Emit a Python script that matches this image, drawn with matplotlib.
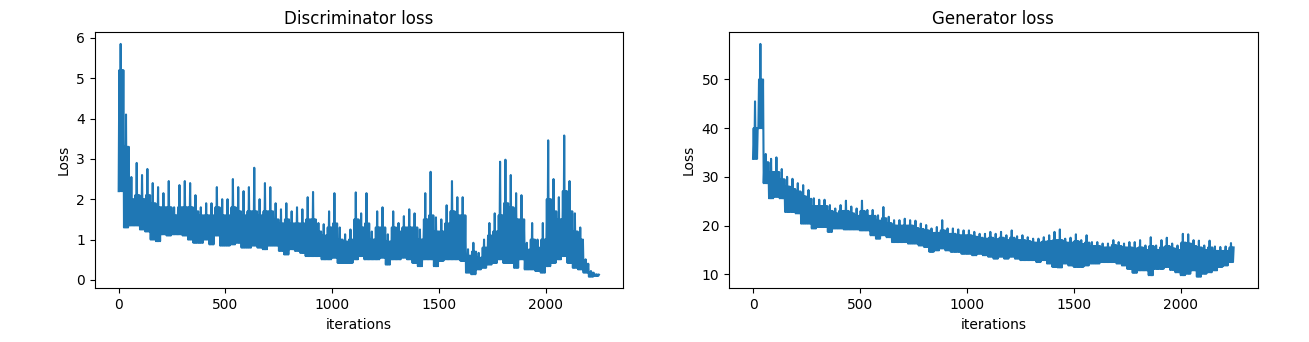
import numpy as np
import matplotlib
matplotlib.use("Agg")
import matplotlib.pyplot as plt

# Loss values, one value per 25 iterations:
# *_high = tallest spike, *_top = top of the dense band, *_low = bottom of the band
n_iter = 2248

d_high = [5.85, 4.1, 2.55, 2.9, 2.6, 2.75, 2.4, 2.3, 2.15, 2.45,
          1.8, 2.35, 2.45, 2.4, 2.1, 1.8, 1.9, 1.9, 2.3, 2.0,
          2.0, 2.5, 2.3, 2.2, 2.3, 2.78, 2.0, 2.4, 2.3, 1.9,
          1.75, 1.9, 1.7, 1.8, 1.75, 2.05, 2.18, 1.41, 1.38, 1.7,
          2.15, 1.3, 1.13, 1.25, 2.17, 1.65, 2.15, 1.2, 1.7, 1.8,
          1.13, 1.7, 1.41, 1.58, 1.75, 1.65, 1.25, 2.15, 2.68, 1.55,
          1.5, 1.85, 2.45, 2.05, 2.05, 0.76, 0.92, 0.67, 1.0, 1.41,
          1.65, 2.93, 2.98, 2.6, 2.15, 2.1, 0.92, 1.41, 1.0, 1.41,
          3.46, 2.5, 2.05, 3.58, 2.45, 1.65, 1.3, 0.51, 0.22, 0.14]
d_top = [5.2, 3.3, 2.0, 2.1, 2.0, 2.1, 1.9, 1.8, 1.8, 1.8,
         1.6, 1.8, 1.8, 1.8, 1.7, 1.6, 1.6, 1.6, 1.8, 1.6,
         1.6, 1.8, 1.7, 1.6, 1.7, 1.7, 1.6, 1.7, 1.7, 1.5,
         1.4, 1.5, 1.4, 1.4, 1.4, 1.5, 1.5, 1.2, 1.1, 1.3,
         1.4, 1.0, 0.95, 1.0, 1.5, 1.3, 1.4, 1.0, 1.3, 1.3,
         0.95, 1.3, 1.2, 1.3, 1.3, 1.3, 1.0, 1.5, 1.6, 1.2,
         1.2, 1.4, 1.7, 1.6, 1.6, 0.6, 0.7, 0.55, 0.8, 1.1,
         1.2, 1.6, 1.9, 1.8, 1.5, 1.5, 0.75, 1.0, 0.8, 1.0,
         2.0, 1.7, 1.5, 2.2, 1.7, 1.2, 1.0, 0.4, 0.18, 0.13]
d_low = [2.2, 1.3, 1.35, 1.35, 1.25, 1.2, 1.0, 0.96, 1.13, 1.1,
         1.13, 1.13, 1.1, 1.0, 0.92, 0.92, 1.0, 0.88, 1.1, 0.85,
         0.85, 0.88, 0.92, 0.8, 0.8, 0.85, 0.8, 0.76, 0.85, 0.85,
         0.72, 0.63, 0.76, 0.72, 0.67, 0.59, 0.59, 0.59, 0.51, 0.51,
         0.55, 0.42, 0.42, 0.42, 0.51, 0.59, 0.51, 0.51, 0.51, 0.55,
         0.38, 0.51, 0.51, 0.55, 0.51, 0.42, 0.34, 0.51, 0.51, 0.34,
         0.47, 0.51, 0.51, 0.51, 0.47, 0.18, 0.14, 0.26, 0.3, 0.38,
         0.42, 0.51, 0.42, 0.42, 0.3, 0.51, 0.26, 0.26, 0.22, 0.18,
         0.34, 0.42, 0.51, 0.59, 0.42, 0.3, 0.26, 0.18, 0.08, 0.1]

g_high = [45.5, 57.3, 34.7, 33.7, 34.0, 31.6, 30.0, 29.6, 28.7, 28.3,
          27.3, 25.6, 25.3, 25.3, 24.2, 23.5, 24.2, 25.1, 23.9, 23.5,
          25.1, 23.2, 23.2, 22.1, 23.8, 21.8, 21.1, 21.1, 21.4, 21.1,
          21.0, 20.4, 20.1, 19.4, 19.7, 21.1, 19.4, 19.4, 19.2, 19.0,
          19.0, 18.7, 18.3, 18.3, 18.7, 18.3, 18.7, 18.0, 19.0, 17.8,
          18.0, 17.6, 17.3, 17.3, 17.6, 18.0, 18.7, 19.2, 17.3, 17.5,
          18.2, 17.0, 18.0, 16.6, 16.6, 16.3, 16.3, 17.0, 16.6, 16.3,
          16.6, 16.6, 17.0, 15.9, 17.6, 15.9, 17.0, 17.5, 16.3, 15.9,
          18.3, 18.2, 17.0, 16.9, 15.9, 16.9, 15.7, 15.6, 15.7, 16.4]
g_top = [40.0, 50.0, 33.0, 31.0, 31.0, 29.5, 28.0, 27.5, 27.0, 26.0,
         25.5, 24.0, 24.0, 24.0, 23.0, 22.5, 23.0, 23.0, 22.5, 22.0,
         23.0, 22.0, 22.0, 21.0, 21.5, 20.5, 20.0, 20.0, 20.0, 20.0,
         19.5, 19.3, 19.0, 18.5, 18.5, 19.0, 18.3, 18.3, 18.0, 18.0,
         18.0, 17.7, 17.5, 17.3, 17.5, 17.2, 17.5, 17.0, 17.5, 17.0,
         17.0, 16.8, 16.5, 16.5, 16.7, 16.8, 17.0, 17.0, 16.5, 16.5,
         16.8, 16.2, 16.5, 15.8, 15.8, 15.5, 15.5, 16.0, 15.8, 15.5,
         15.5, 15.3, 15.5, 15.0, 15.8, 15.0, 15.5, 15.8, 15.3, 15.0,
         16.5, 16.3, 15.8, 15.5, 15.0, 15.5, 14.8, 14.8, 14.8, 15.5]
g_low = [33.7, 40.0, 28.7, 25.6, 25.9, 25.6, 22.8, 22.8, 22.5, 20.4,
         20.4, 19.4, 19.7, 19.7, 18.7, 19.4, 19.4, 19.2, 19.2, 19.2,
         19.0, 19.0, 18.0, 17.3, 18.0, 17.6, 16.6, 16.6, 16.6, 16.3,
         16.3, 15.9, 15.6, 14.6, 14.9, 15.3, 14.9, 14.6, 14.6, 14.2,
         14.2, 13.9, 14.2, 13.9, 13.6, 13.2, 13.6, 13.2, 13.6, 13.2,
         12.9, 12.9, 12.9, 12.5, 12.9, 12.2, 11.5, 11.4, 12.2, 11.8,
         11.5, 11.5, 11.8, 12.2, 12.2, 12.5, 12.5, 12.5, 12.2, 11.8,
         11.1, 10.3, 10.8, 10.8, 9.8, 11.1, 11.1, 11.5, 10.9, 10.4,
         9.8, 10.1, 10.8, 9.5, 10.1, 10.4, 10.8, 11.5, 11.8, 12.5]


def trace(high, top, low):
    # per 25-iteration bin: one spike to the high value, three to the band top
    high, top, low = map(np.asarray, (high, top, low))
    y = np.column_stack([low, top, low, high, low, top, low, top]).ravel()
    x = np.linspace(0, n_iter, len(y))
    return x, y


fig = plt.figure(figsize=(13.09, 3.42), dpi=100)
ax1 = fig.add_axes([0.0723, 0.157, 0.4036, 0.7486])
ax2 = fig.add_axes([0.5569, 0.157, 0.4039, 0.7486])

x, y = trace(d_high, d_top, d_low)
ax1.plot(x, y, color="#1f77b4")
ax1.set_title("Discriminator loss")
ax1.set_xlabel("iterations")
ax1.set_ylabel("Loss")

x, y = trace(g_high, g_top, g_low)
ax2.plot(x, y, color="#1f77b4")
ax2.set_title("Generator loss")
ax2.set_xlabel("iterations")
ax2.set_ylabel("Loss")

fig.savefig("out.png", dpi=100)
